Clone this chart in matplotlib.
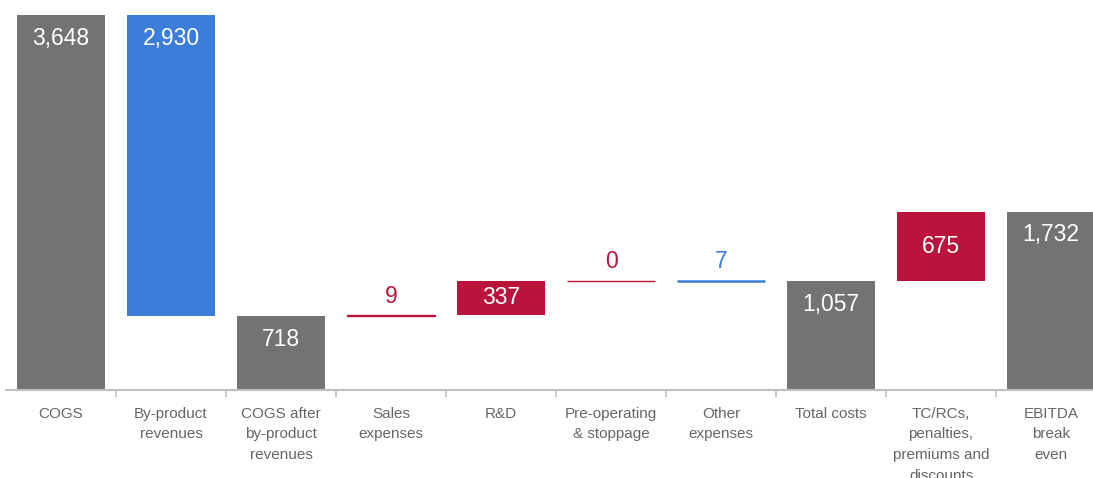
import numpy as np
import matplotlib
matplotlib.use("Agg")
import matplotlib.pyplot as plt

plt.rcParams['font.family'] = ['Liberation Sans', 'DejaVu Sans']

categories = ["COGS", "By-product\nrevenues", "COGS after\nby-product\nrevenues",
              "Sales\nexpenses", "R&D", "Pre-operating\n& stoppage", "Other\nexpenses",
              "Total costs", "TC/RCs,\npenalties,\npremiums and\ndiscounts", "EBITDA\nbreak\neven"]
values = [3648, -2930, 718, 9, 337, 0, -7, 1057, 675, 1732]
kinds = ["total", "delta", "total", "delta", "delta", "delta", "delta", "total", "delta", "total"]

gray = "#737373"
blue = "#3B7DD8"
red = "#BA143C"

# waterfall bottoms / heights
bottoms, heights, colors = [], [], []
running = 0
for v, k in zip(values, kinds):
    if k == "total":
        bottoms.append(0)
        heights.append(v)
        colors.append(gray)
        running = v
    else:
        if v >= 0:
            bottoms.append(running)
            heights.append(v)
            colors.append(red)
        else:
            bottoms.append(running + v)
            heights.append(-v)
            colors.append(blue)
        running += v

fig = plt.figure(figsize=(10.93, 4.78), dpi=100)
# axes spans a bit past the right edge like the original crop
ax = fig.add_axes([6 / 1093, 88 / 478, 1100 / 1093, 390 / 478])
x = np.arange(len(categories))
px_per_unit = 375 / 3648
ax.set_ylim(0, 390 / px_per_unit)
ax.set_xlim(-0.5, len(categories) - 0.5)

for i in range(len(categories)):
    h = heights[i]
    lw = 1.8 if colors[i] == blue else 1.0
    ax.bar(x[i], h, bottom=bottoms[i], width=0.8, color=colors[i],
           edgecolor=colors[i], linewidth=lw if h < 50 else 0)
    label = f"{abs(values[i]):,}"
    top = bottoms[i] + h
    if h * px_per_unit < 25:
        ax.annotate(label, (x[i], top), xytext=(0, 19), textcoords="offset pixels",
                    ha="center", va="center", color=colors[i], fontsize=16.5)
    elif colors[i] == red:
        ax.annotate(label, (x[i], bottoms[i] + h / 2), ha="center", va="center",
                    color="white", fontsize=16.5)
    else:
        ax.annotate(label, (x[i], top), xytext=(0, -23), textcoords="offset pixels",
                    ha="center", va="center", color="white", fontsize=16.5)

for s in ["top", "right", "left"]:
    ax.spines[s].set_visible(False)
ax.spines["bottom"].set_color("#BFBFBF")
ax.spines["bottom"].set_linewidth(1.5)
ax.set_yticks([])
ax.set_xticks(x)
ax.set_xticklabels(categories, fontsize=11, color="#666666", linespacing=1.62, va="top")
ax.tick_params(axis="x", which="major", length=0, pad=12)
ax.set_xticks(x[:-1] + 0.5, minor=True)
ax.tick_params(axis="x", which="minor", length=5, color="#BFBFBF", width=1.2)

fig.savefig("out.png", dpi=100)
